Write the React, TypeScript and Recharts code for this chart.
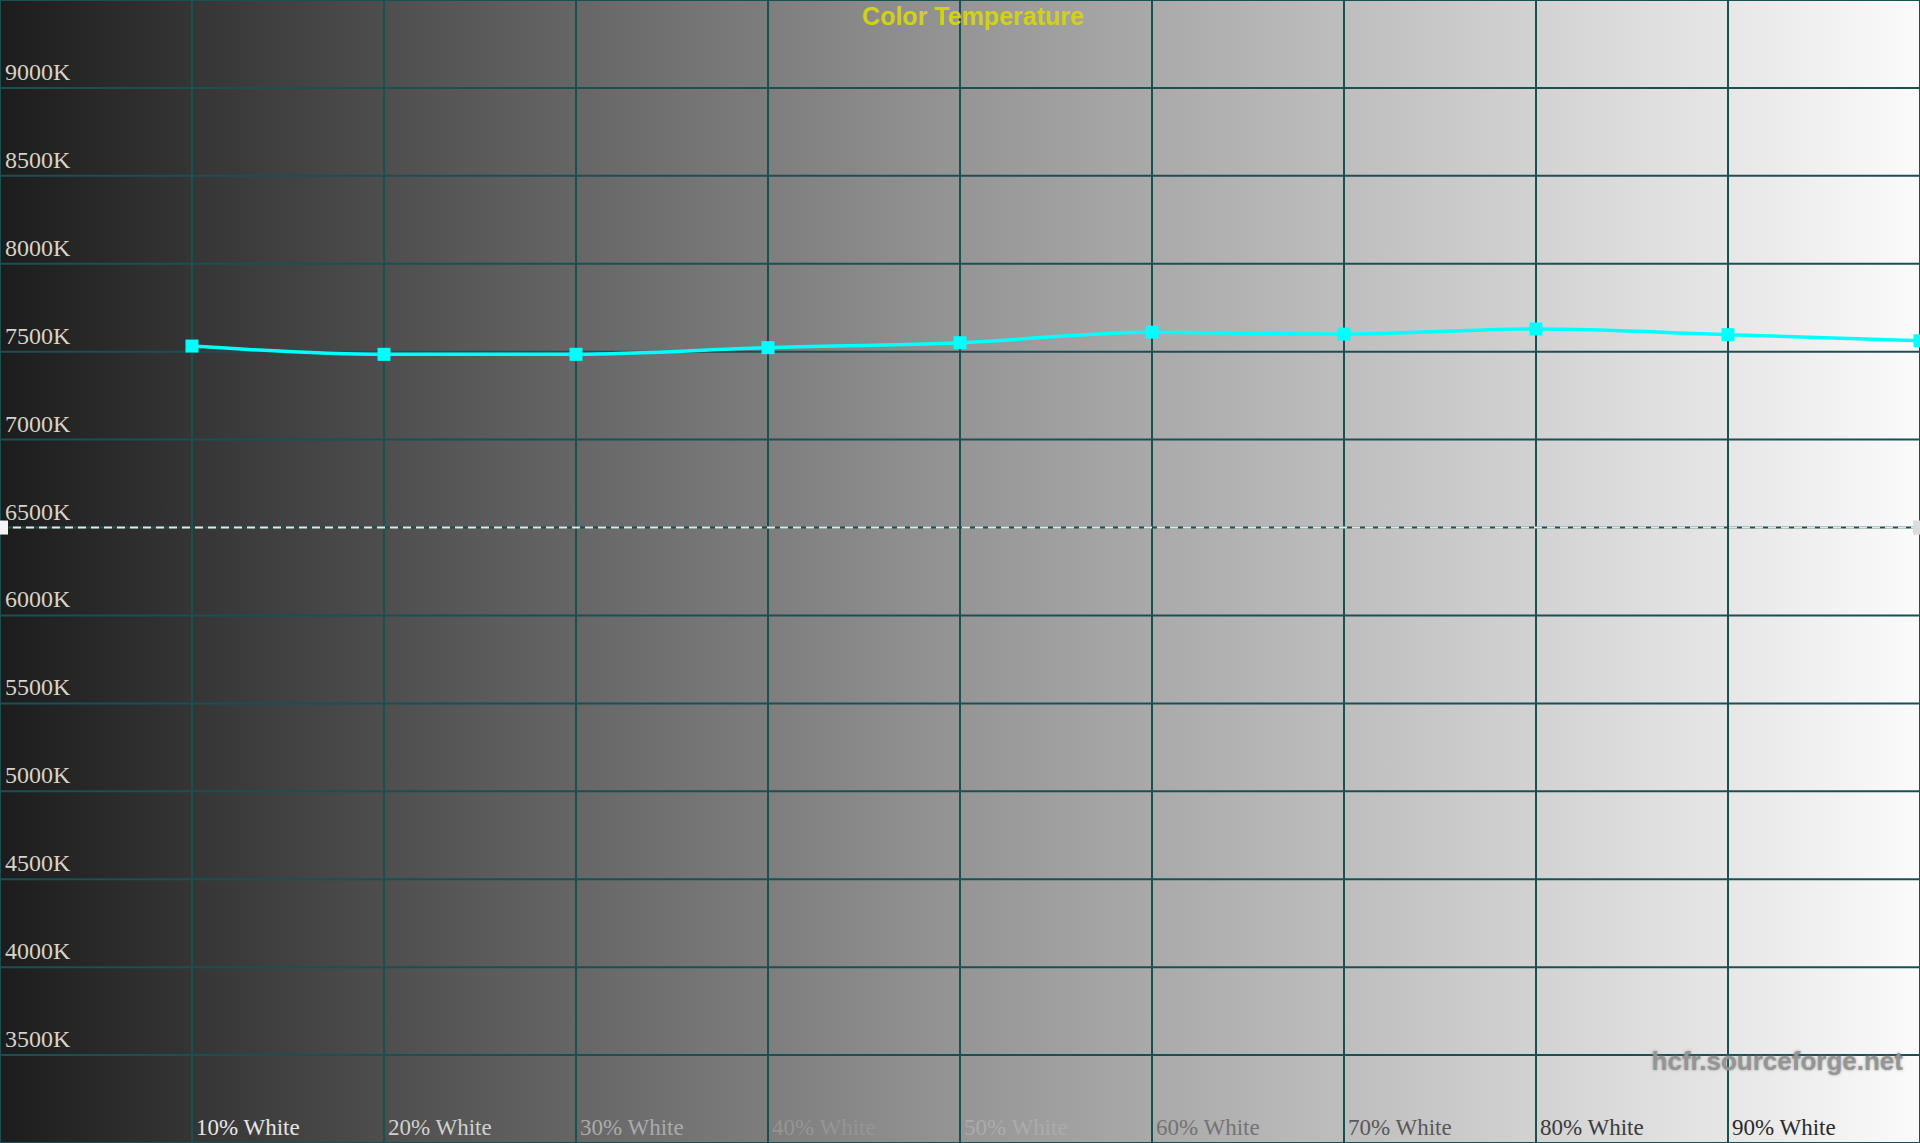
import React from "react";
import { LineChart, Line, XAxis, YAxis, CartesianGrid, ReferenceLine, ReferenceDot } from "recharts";

const W = 1920;
const H = 1143;

const levels = [10, 20, 30, 40, 50, 60, 70, 80, 90, 100];
const cct = [7532, 7485, 7485, 7523, 7551, 7611, 7600, 7629, 7597, 7562];

const xTicks = [0, 10, 20, 30, 40, 50, 60, 70, 80, 90];
const xLabels = ["", "10% White", "20% White", "30% White", "40% White", "50% White", "60% White", "70% White", "80% White", "90% White"];
const xLabelColors = ["#ffffff", "#e6e6e6", "#d0d0d0", "#ababab", "#959595", "#ababab", "#737373", "#585858", "#3a3a3a", "#2a2a2a"];

const yTicks = [3500, 4000, 4500, 5000, 5500, 6000, 6500, 7000, 7500, 8000, 8500, 9000];
const yLabels = ["3500K", "4000K", "4500K", "5000K", "5500K", "6000K", "6500K", "7000K", "7500K", "8000K", "8500K", "9000K"];

const target = 6500;

const data = levels.map((l, i) => ({ x: l, v: cct[i] }));

const XTick = (props: any) => {
  const { x, payload } = props;
  const i = xTicks.indexOf(payload.value);
  if (i <= 0) return null;
  return (
    <text x={x + 4} y={H - 8} fill={xLabelColors[i]} fontFamily="'Liberation Serif', serif" fontSize={23} textAnchor="start">
      {xLabels[i]}
    </text>
  );
};

const YTick = (props: any) => {
  const { y, payload } = props;
  const i = yTicks.indexOf(payload.value);
  if (i < 0) return null;
  return (
    <text x={5} y={y - 8} fill="#d6d3c8" fontFamily="'Liberation Serif', serif" fontSize={24} textAnchor="start">
      {yLabels[i]}
    </text>
  );
};

const SquareDot = (props: any) => {
  const { cx, cy } = props;
  if (cx == null || cy == null) return null;
  return <rect x={cx - 6.5} y={cy - 6.5} width={13} height={13} fill="#00ffff" />;
};

export default function App() {
  return (
    <div
      style={{
        position: "absolute",
        left: 0,
        top: 0,
        width: W,
        height: H,
        background: "linear-gradient(to right, #1c1c1c 0%, #5a5a5a 25%, #959595 50%, #c8c8c8 75%, #fbfbfb 100%)",
        overflow: "hidden",
      }}
    >
      <LineChart width={W} height={H} data={data} margin={{ top: 0, right: 0, bottom: 0, left: 0 }}>
        <CartesianGrid stroke="#1a5050" strokeWidth={2} />
        <XAxis
          type="number"
          dataKey="x"
          domain={[0, 100]}
          ticks={xTicks}
          interval={0}
          height={30}
          mirror
          axisLine={false}
          tickLine={false}
          tick={<XTick />}
        />
        <YAxis
          type="number"
          domain={[3000, 9500]}
          ticks={yTicks}
          interval={0}
          width={60}
          mirror
          axisLine={false}
          tickLine={false}
          tick={<YTick />}
        />
        <ReferenceLine y={target} stroke="#e6e6e6" strokeWidth={2} strokeDasharray="8 5" />
        <ReferenceDot x={0} y={target} r={7} fill="#f4f4f4" stroke="none" shape={(p: any) => <rect x={p.cx} y={p.cy - 7} width={8} height={14} fill="#f4f4f4" />} />
        <ReferenceDot x={100} y={target} r={7} fill="#dcdcdc" stroke="none" shape={(p: any) => <rect x={p.cx - 7} y={p.cy - 7} width={8} height={14} fill="#dcdcdc" />} />
        <Line
          type="monotone"
          dataKey="v"
          stroke="#00ffff"
          strokeWidth={3.5}
          dot={<SquareDot />}
          activeDot={false}
          isAnimationActive={false}
        />
      </LineChart>
      <svg width={W} height={H} style={{ position: "absolute", left: 0, top: 0, pointerEvents: "none" }}>
        <text x={973} y={25} fill="#d2d214" fontFamily="'Liberation Sans', Arial, sans-serif" fontWeight="bold" fontSize={25} textAnchor="middle">
          Color Temperature
        </text>
        <text x={1903} y={1070} fill="#959595" fontFamily="'Liberation Sans', Arial, sans-serif" fontWeight="bold" fontSize={26} textAnchor="end" style={{ textShadow: "0 0 3px rgba(140,140,140,0.8)" }}>
          hcfr.sourceforge.net
        </text>
      </svg>
    </div>
  );
}
